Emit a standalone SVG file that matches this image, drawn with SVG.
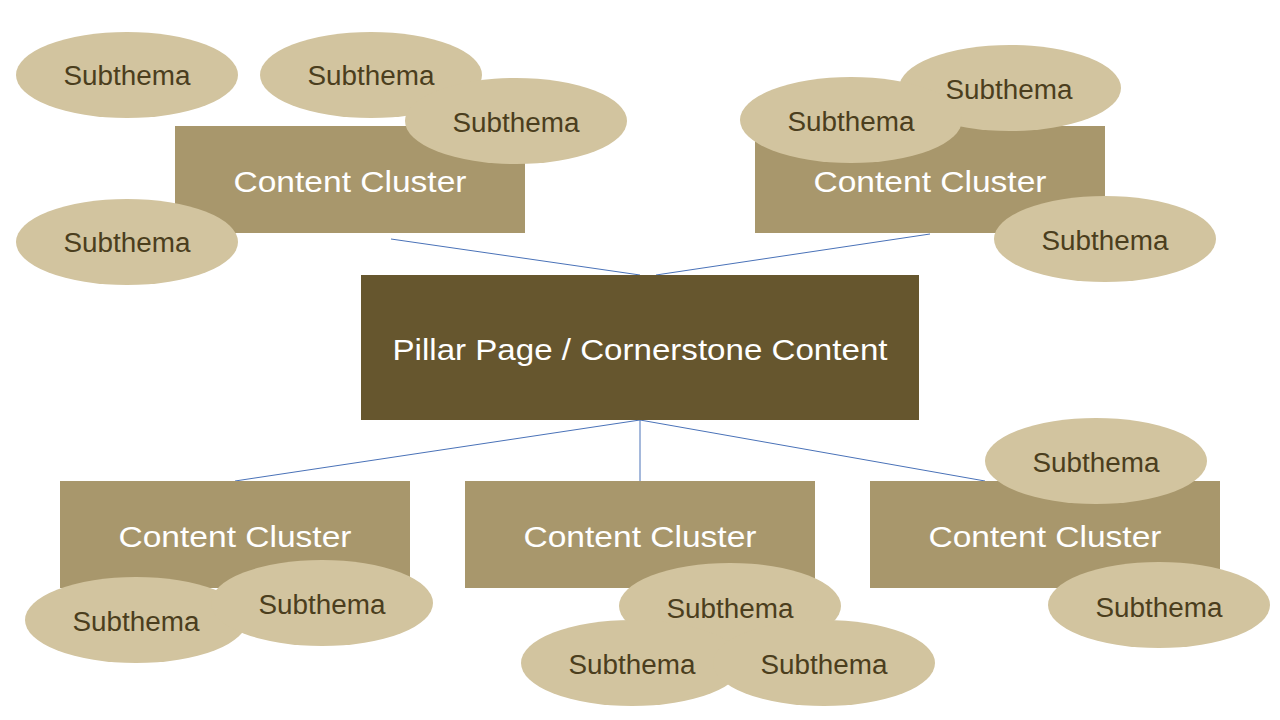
<svg xmlns="http://www.w3.org/2000/svg" width="1280" height="720" viewBox="0 0 1280 720">
<style>
.box{fill:#a8976c}
.pillar{fill:#66562e}
.ell{fill:#d2c49f}
.bt{font-family:"Liberation Sans",Arial,sans-serif;font-size:30px;fill:#ffffff;text-anchor:middle}
.pt{font-family:"Liberation Sans",Arial,sans-serif;font-size:30px;fill:#ffffff;text-anchor:middle}
.st{font-family:"Liberation Sans",Arial,sans-serif;font-size:27px;fill:#4b3e1d;text-anchor:middle}
.con line{stroke:#4a72b8;stroke-width:1}
</style>
<rect width="1280" height="720" fill="#ffffff"/>
<g id="connectors" class="con">
<line x1="391" y1="239" x2="640" y2="275"/>
<line x1="930" y1="234" x2="656" y2="275"/>
<line x1="640" y1="420" x2="235" y2="481"/>
<line x1="640" y1="420" x2="640" y2="481"/>
<line x1="640" y1="420" x2="985" y2="481"/>
</g>
<g id="pillar">
<rect class="pillar" x="361" y="275" width="558" height="145"/>
<text class="pt" x="640" y="360" textLength="495" lengthAdjust="spacingAndGlyphs">Pillar Page / Cornerstone Content</text>
</g>
<g id="cluster-tl">
<rect class="box" x="175" y="126" width="350" height="107"/>
<text class="bt" x="350" y="192" textLength="233" lengthAdjust="spacingAndGlyphs">Content Cluster</text>
</g>
<g id="cluster-tr">
<rect class="box" x="755" y="126" width="350" height="107"/>
<text class="bt" x="930" y="192" textLength="233" lengthAdjust="spacingAndGlyphs">Content Cluster</text>
</g>
<g id="cluster-bl">
<rect class="box" x="60" y="481" width="350" height="107"/>
<text class="bt" x="235" y="547" textLength="233" lengthAdjust="spacingAndGlyphs">Content Cluster</text>
</g>
<g id="cluster-bc">
<rect class="box" x="465" y="481" width="350" height="107"/>
<text class="bt" x="640" y="547" textLength="233" lengthAdjust="spacingAndGlyphs">Content Cluster</text>
</g>
<g id="cluster-br">
<rect class="box" x="870" y="481" width="350" height="107"/>
<text class="bt" x="1045" y="547" textLength="233" lengthAdjust="spacingAndGlyphs">Content Cluster</text>
</g>
<g id="sub-1"><ellipse class="ell" cx="127" cy="75" rx="111" ry="43"/><text class="st" x="127" y="85" textLength="127" lengthAdjust="spacingAndGlyphs">Subthema</text></g>
<g id="sub-2"><ellipse class="ell" cx="371" cy="75" rx="111" ry="43"/><text class="st" x="371" y="85" textLength="127" lengthAdjust="spacingAndGlyphs">Subthema</text></g>
<g id="sub-3"><ellipse class="ell" cx="516" cy="121" rx="111" ry="43"/><text class="st" x="516" y="132" textLength="127" lengthAdjust="spacingAndGlyphs">Subthema</text></g>
<g id="sub-4"><ellipse class="ell" cx="127" cy="242" rx="111" ry="43"/><text class="st" x="127" y="252" textLength="127" lengthAdjust="spacingAndGlyphs">Subthema</text></g>
<g id="sub-5"><ellipse class="ell" cx="1010" cy="88" rx="111" ry="43"/><text class="st" x="1009" y="99" textLength="127" lengthAdjust="spacingAndGlyphs">Subthema</text></g>
<g id="sub-6"><ellipse class="ell" cx="851" cy="120" rx="111" ry="43"/><text class="st" x="851" y="131" textLength="127" lengthAdjust="spacingAndGlyphs">Subthema</text></g>
<g id="sub-7"><ellipse class="ell" cx="1105" cy="239" rx="111" ry="43"/><text class="st" x="1105" y="250" textLength="127" lengthAdjust="spacingAndGlyphs">Subthema</text></g>
<g id="sub-8"><ellipse class="ell" cx="1096" cy="461" rx="111" ry="43"/><text class="st" x="1096" y="472" textLength="127" lengthAdjust="spacingAndGlyphs">Subthema</text></g>
<g id="sub-9"><ellipse class="ell" cx="1159" cy="605" rx="111" ry="43"/><text class="st" x="1159" y="617" textLength="127" lengthAdjust="spacingAndGlyphs">Subthema</text></g>
<g id="sub-10"><ellipse class="ell" cx="136" cy="620" rx="111" ry="43"/><text class="st" x="136" y="631" textLength="127" lengthAdjust="spacingAndGlyphs">Subthema</text></g>
<g id="sub-11"><ellipse class="ell" cx="322" cy="603" rx="111" ry="43"/><text class="st" x="322" y="614" textLength="127" lengthAdjust="spacingAndGlyphs">Subthema</text></g>
<g id="sub-12"><ellipse class="ell" cx="730" cy="606" rx="111" ry="43"/><text class="st" x="730" y="618" textLength="127" lengthAdjust="spacingAndGlyphs">Subthema</text></g>
<g id="sub-13"><ellipse class="ell" cx="632" cy="663" rx="111" ry="43"/><text class="st" x="632" y="674" textLength="127" lengthAdjust="spacingAndGlyphs">Subthema</text></g>
<g id="sub-14"><ellipse class="ell" cx="824" cy="663" rx="111" ry="43"/><text class="st" x="824" y="674" textLength="127" lengthAdjust="spacingAndGlyphs">Subthema</text></g>
</svg>
